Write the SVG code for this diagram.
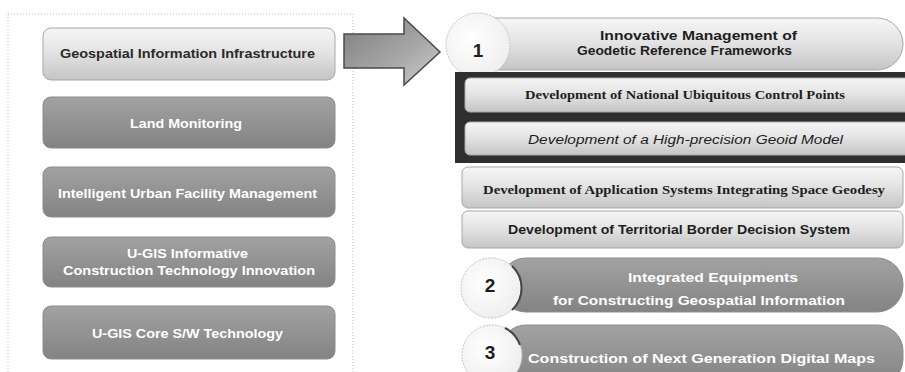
<svg xmlns="http://www.w3.org/2000/svg" width="905" height="372" viewBox="0 0 905 372">
  <defs>
    <linearGradient id="lightFill" x1="0" y1="0" x2="0" y2="1">
      <stop offset="0" stop-color="#f6f6f6"/>
      <stop offset="0.5" stop-color="#e2e2e2"/>
      <stop offset="1" stop-color="#c4c4c4"/>
    </linearGradient>
    <linearGradient id="darkFill" x1="0" y1="0" x2="0" y2="1">
      <stop offset="0" stop-color="#a2a2a2"/>
      <stop offset="1" stop-color="#838383"/>
    </linearGradient>
    <linearGradient id="arrowFill" x1="0" y1="0" x2="1" y2="1">
      <stop offset="0" stop-color="#7e7e7e"/>
      <stop offset="0.6" stop-color="#a8a8a8"/>
      <stop offset="1" stop-color="#d0d0d0"/>
    </linearGradient>
    <radialGradient id="badgeFill" cx="0.4" cy="0.4" r="0.7">
      <stop offset="0" stop-color="#ffffff"/>
      <stop offset="1" stop-color="#ededed"/>
    </radialGradient>
  </defs>
  <style>
    .panel { fill: none; stroke: #bcbcbc; stroke-width: 1; stroke-dasharray: 1 2; }
    .light { fill: url(#lightFill); stroke: #a8a8a8; stroke-width: 1; }
    .dark { fill: url(#darkFill); stroke: #8c8c8c; stroke-width: 1; }
    .frame { fill: #2e2e2e; }
    .badge { fill: url(#badgeFill); stroke: #c4c4c4; stroke-width: 1; stroke-dasharray: 2 1; }
    .shade { fill: none; stroke: #444; stroke-width: 2; }
    .sans { font-family: "Liberation Sans", Arial, sans-serif; }
    .serif { font-family: "Liberation Serif", "Times New Roman", serif; }
    .lblDark { fill: #2a2a2a; font-weight: bold; font-size: 13px; }
    .lblWhite { fill: #ffffff; font-weight: bold; font-size: 13px; }
    .title { fill: #1e1e1e; font-size: 13.5px; font-weight: bold; }
    .num { fill: #1e1e1e; font-weight: bold; font-size: 19px; text-anchor: middle; }
  </style>

  <rect width="905" height="372" fill="#ffffff"/>

  <!-- left panel of programme areas -->
  <rect class="panel" x="8" y="14" width="345" height="380"/>

  <g id="left-geospatial">
    <rect class="light" x="43" y="28" width="292" height="52" rx="8"/>
    <text class="sans lblDark" x="60" y="58" textLength="255" lengthAdjust="spacingAndGlyphs">Geospatial Information Infrastructure</text>
  </g>
  <g id="left-land">
    <rect class="dark" x="43" y="97" width="292" height="51" rx="8"/>
    <text class="sans lblWhite" x="130" y="128" textLength="112" lengthAdjust="spacingAndGlyphs">Land Monitoring</text>
  </g>
  <g id="left-urban">
    <rect class="dark" x="43" y="167" width="292" height="50" rx="8"/>
    <text class="sans lblWhite" x="58" y="198" textLength="259" lengthAdjust="spacingAndGlyphs">Intelligent Urban Facility Management</text>
  </g>
  <g id="left-construction">
    <rect class="dark" x="43" y="237" width="292" height="50" rx="8"/>
    <text class="sans lblWhite" x="127" y="258" textLength="121" lengthAdjust="spacingAndGlyphs">U-GIS Informative</text>
    <text class="sans lblWhite" x="63" y="275" textLength="252" lengthAdjust="spacingAndGlyphs">Construction Technology Innovation</text>
  </g>
  <g id="left-core">
    <rect class="dark" x="43" y="306" width="292" height="53" rx="8"/>
    <text class="sans lblWhite" x="92" y="338" textLength="191" lengthAdjust="spacingAndGlyphs">U-GIS Core S/W Technology</text>
  </g>

  <!-- block arrow -->
  <g id="connectors">
    <polygon points="344,34 404,34 404,18 440,52 404,85 404,68 344,68" fill="url(#arrowFill)" stroke="#4a4a4a" stroke-width="1.5"/>
  </g>

  <!-- item 1 with its sub-projects -->
  <g id="item1">
    <rect class="light" x="470" y="18" width="433" height="52" rx="26"/>
    <circle class="badge" cx="478" cy="45" r="32"/>
    <text class="num sans" x="478" y="57">1</text>
    <text class="sans title" x="600" y="40" textLength="197" lengthAdjust="spacingAndGlyphs">Innovative Management of</text>
    <text class="sans title" x="577" y="55" textLength="215" lengthAdjust="spacingAndGlyphs">Geodetic Reference Frameworks</text>
  </g>

  <g id="item1-subprojects">
    <rect class="frame" x="455" y="72" width="450" height="91"/>
    <rect class="light" x="465" y="78" width="445" height="34" rx="5"/>
    <rect class="light" x="465" y="122" width="445" height="33" rx="5"/>
  </g>
  <g id="sub-control-points">
    <text class="serif" x="525" y="99" font-size="12" font-weight="bold" fill="#1e1e1e" textLength="320" lengthAdjust="spacingAndGlyphs">Development of National Ubiquitous Control Points</text>
  </g>
  <g id="sub-geoid">
    <text class="sans" x="528" y="144" font-size="12.5" font-style="italic" fill="#1e1e1e" textLength="315" lengthAdjust="spacingAndGlyphs">Development of a High-precision Geoid Model</text>
  </g>
  <g id="sub-space-geodesy">
    <rect class="light" x="462" y="167" width="441" height="41" rx="6"/>
    <text class="serif" x="483" y="194" font-size="12" font-weight="bold" fill="#1e1e1e" textLength="402" lengthAdjust="spacingAndGlyphs">Development of Application Systems Integrating Space Geodesy</text>
  </g>
  <g id="sub-border">
    <rect class="light" x="462" y="211" width="441" height="37" rx="6"/>
    <text class="sans" x="508" y="234" font-size="12.5" font-weight="bold" fill="#1e1e1e" textLength="342" lengthAdjust="spacingAndGlyphs">Development of Territorial Border Decision System</text>
  </g>

  <!-- item 2 -->
  <g id="item2">
    <rect class="dark" x="500" y="258" width="403" height="54" rx="26"/>
    <circle class="badge" cx="491" cy="288" r="30"/>
    <path class="shade" d="M 512 266 A 30 30 0 0 1 512 310"/>
    <text class="num sans" x="490" y="292">2</text>
    <text class="sans lblWhite" x="628" y="282" textLength="170" lengthAdjust="spacingAndGlyphs">Integrated Equipments</text>
    <text class="sans lblWhite" x="553" y="305" textLength="292" lengthAdjust="spacingAndGlyphs">for Constructing Geospatial Information</text>
  </g>

  <!-- item 3 -->
  <g id="item3">
    <rect class="dark" x="500" y="325" width="403" height="60" rx="26"/>
    <circle class="badge" cx="492" cy="355" r="30"/>
    <path class="shade" d="M 505 328 A 30 30 0 0 1 520 345" stroke="#777"/>
    <text class="num sans" x="490" y="359">3</text>
    <text class="sans lblWhite" x="528" y="363" textLength="347" lengthAdjust="spacingAndGlyphs">Construction of Next Generation Digital Maps</text>
  </g>
</svg>
